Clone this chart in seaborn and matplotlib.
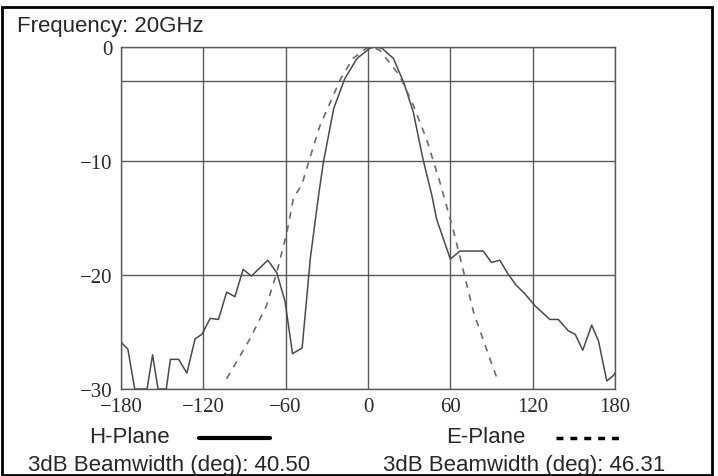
import matplotlib
matplotlib.use("Agg")
import matplotlib.pyplot as plt
import seaborn as sns
import pandas as pd
from matplotlib.lines import Line2D
from matplotlib.patches import Rectangle

# H-plane (solid) pattern, angle in deg / level in dB
h_angle = [-180, -175, -170, -161, -157, -153, -147, -144, -138, -132, -126, -121,
           -115, -109, -103, -97, -91, -85, -73, -66.5, -60.5, -55, -48, -42, -36,
           -32.5, -25, -17, -8, 1.5, 5, 10, 18.5, 26, 33, 40, 46.5, 50, 60, 67, 84,
           90, 96, 102, 108, 114, 121.7, 132.6, 138.7, 146, 151, 156.5, 163, 168,
           174, 179, 180]
h_level = [-25.9, -26.5, -30, -30, -27.0, -30, -30, -27.4, -27.4, -28.6, -25.6, -25.2,
           -23.8, -23.9, -21.5, -21.9, -19.5, -20.1, -18.7, -19.8, -22.3, -26.9, -26.4,
           -18.5, -13.0, -10.1, -5.4, -2.8, -1.0, -0.1, 0.0, -0.1, -1.0, -3.1, -5.7,
           -9.8, -13.0, -15.1, -18.6, -17.9, -17.9, -18.9, -18.7, -19.9, -20.9, -21.6,
           -22.7, -23.9, -23.9, -24.9, -25.2, -26.6, -24.4, -25.8, -29.3, -28.8, -28.6]

# E-plane (dashed) pattern
e_angle = [-103, -86, -74, -66.5, -59, -54.4, -48, -42, -35, -20, -11, -1, 3, 8.7,
           23, 33, 42.7, 52.5, 62, 68, 77, 89, 95]
e_level = [-29.1, -25.6, -22.7, -19.8, -16.2, -13.3, -12.0, -9.6, -6.9, -2.8, -1.0,
           -0.1, 0.0, -0.3, -2.5, -5.1, -8.1, -11.9, -16.0, -18.9, -23.3, -27.4, -29.4]

x_ticks = [-180, -120, -60, 0, 60, 120, 180]
y_ticks = [0, -10, -20, -30]

h_df = pd.DataFrame({"angle": h_angle, "level": h_level})
e_df = pd.DataFrame({"angle": e_angle, "level": e_level})

sns.set_style("white")
fig = plt.figure(figsize=(7.18, 4.77), dpi=100)
ax = fig.add_axes([121 / 718, 1 - 390 / 477, 494 / 718, 342 / 477])

grid_col = "#5a5a5a"
sns.lineplot(data=h_df, x="angle", y="level", ax=ax, color="#4a4a4a",
             linewidth=1.1, errorbar=None, sort=False)
sns.lineplot(data=e_df, x="angle", y="level", ax=ax, color="#6a6a6a",
             linewidth=1.2, errorbar=None, sort=False)
ax.lines[-1].set_dashes([4, 4])

ax.set_xlim(-180, 180)
ax.set_ylim(-30, 0)
ax.set_xticks(x_ticks)
ax.set_yticks(y_ticks)
ax.set_xticklabels([str(t).replace("-", "\u2212") for t in x_ticks],
                   family="Liberation Serif", fontsize=15, color="#2a2a2a")
ax.set_yticklabels([str(t).replace("-", "\u2212") for t in y_ticks],
                   family="Liberation Serif", fontsize=15, color="#2a2a2a")
ax.tick_params(axis="both", direction="out", length=5, width=1, color=grid_col, pad=1)
ax.grid(True, color=grid_col, linewidth=1.0)
ax.axhline(-3, color=grid_col, linewidth=1.0)
for sp in ax.spines.values():
    sp.set_color(grid_col)
    sp.set_linewidth(1.0)
ax.set_xlabel("")
ax.set_ylabel("")

# outer frame
fig.patches.append(Rectangle((2 / 718, 1 / 477), 710 / 718, 468 / 477,
                             transform=fig.transFigure, fill=False,
                             edgecolor="black", linewidth=2))

sans = "Liberation Sans"
fig.text(17 / 718, 1 - 32 / 477, "Frequency: 20GHz", family=sans, fontsize=16,
         va="baseline")
fig.text(89 / 718, 1 - 443 / 477, "H-Plane", family=sans, fontsize=16, va="baseline")
fig.text(446 / 718, 1 - 443 / 477, "E-Plane", family=sans, fontsize=16, va="baseline")
fig.text(28 / 718, 1 - 471 / 477, "3dB Beamwidth (deg): 40.50", family=sans,
         fontsize=16, va="baseline")
fig.text(383 / 718, 1 - 471 / 477, "3dB Beamwidth (deg): 46.31", family=sans,
         fontsize=16, va="baseline")

# legend samples
fig.add_artist(Line2D([199 / 718, 270 / 718], [1 - 439 / 477, 1 - 439 / 477],
                      transform=fig.transFigure, color="black", linewidth=3))
dash = Line2D([556 / 718, 619 / 718], [1 - 439 / 477, 1 - 439 / 477],
              transform=fig.transFigure, color="black", linewidth=2.5)
dash.set_dashes([2.0, 2.0])
fig.add_artist(dash)

fig.savefig("out.png", dpi=100)
